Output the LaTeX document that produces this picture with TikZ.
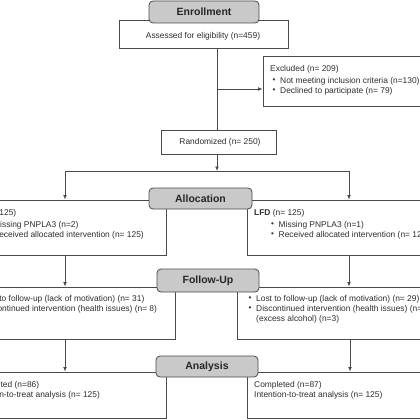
\documentclass[tikz,border=0pt]{standalone}
\usepackage{fontspec}
\setmainfont{Liberation Sans}
\usetikzlibrary{arrows.meta}
\definecolor{ln}{HTML}{4A4A4A}
\definecolor{tx}{HTML}{2E2E2E}
\definecolor{hdrfill}{HTML}{C9C9C9}
\newcommand\bul{\makebox[7.5pt][l]{\raisebox{0.3pt}{\fontsize{8}{8}\selectfont •}}}
\begin{document}
\begin{tikzpicture}[x=1pt,y=-1pt,
  box/.style={draw=ln,line width=0.8pt,fill=white,inner sep=0pt},
  hdr/.style={draw=ln,line width=0.8pt,fill=hdrfill,rounded corners=4pt,inner sep=0pt,
    text=black!85,font=\fontsize{10.5}{12}\selectfont\bfseries},
  txt/.style={anchor=west,inner sep=0pt,text=tx,font=\fontsize{8.4}{10}\selectfont,
    text height=6pt,text depth=1.8pt},
  ctxt/.style={txt,anchor=center},
  arr/.style={draw=ln,line width=0.8pt,-{Latex[length=4.5pt,width=3.8pt]}},
  ln/.style={draw=ln,line width=0.8pt}]
\useasboundingbox (0,0) rectangle (420,420);
\fill[white] (0,0) rectangle (420,420);
\clip (0,0) rectangle (420,420);

% body boxes
\node[box,minimum width=169pt,minimum height=28pt] (assess) at (203.5,34) {};
\node[box,minimum width=177pt,minimum height=50pt] (excl) at (351.5,81) {};
\node[box,minimum width=115pt,minimum height=24pt] (rand) at (218.5,142) {};
\node[box,minimum width=209pt,minimum height=55pt] (allocL) at (61.5,227.5) {};
\node[box,minimum width=213pt,minimum height=55pt] (allocR) at (353.5,227.5) {};
\node[box,minimum width=215pt,minimum height=52pt] (fuL) at (67.5,313) {};
\node[box,minimum width=223pt,minimum height=52pt] (fuR) at (348.5,313) {};
\node[box,minimum width=202pt,minimum height=46pt] (anL) at (65,395) {};
\node[box,minimum width=213pt,minimum height=46pt] (anR) at (353.5,395) {};

% headers
\node[hdr,minimum width=110pt,minimum height=22pt] (enr) at (204,12) {Enrollment};
\node[hdr,minimum width=103pt,minimum height=21pt] (alloc) at (200.5,198.5) {Allocation};
\node[hdr,minimum width=102pt,minimum height=23pt] (fu) at (208,280.5) {Follow-Up};
\node[hdr,minimum width=102pt,minimum height=21pt] (an) at (207,366.5) {Analysis};

% texts
\node[ctxt] (tAssess) at (203,36) {Assessed for eligibility (n=459)};
\node[txt] (tEx0) at (270,69) {Excluded (n= 209)};
\node[txt] (tEx1) at (272.5,81) {\bul Not meeting inclusion criteria (n=130)};
\node[txt] (tEx2) at (272.5,91) {\bul Declined to participate (n= 79)};
\node[ctxt] (tRand) at (220,142) {Randomized (n= 250)};

\node[txt,anchor=east] (tAL0) at (16.5,213) {(n= 125)};
\node[txt] (tAL1) at (-14.5,225) {\bul Missing PNPLA3 (n=2)};
\node[txt] (tAL2) at (-14.5,235) {\bul Received allocated intervention (n= 125)};
\node[txt] (tAR0) at (254,213) {\textbf{LFD} (n= 125)};
\node[txt] (tAR1) at (271,225) {\bul Missing PNPLA3 (n=1)};
\node[txt] (tAR2) at (271,235) {\bul Received allocated intervention (n= 125)};

\node[txt] (tFL1) at (-26.5,299) {\bul Lost to follow-up (lack of motivation) (n= 31)};
\node[txt] (tFL2) at (-26.5,309) {\bul Discontinued intervention (health issues) (n= 8)};
\node[txt] (tFR1) at (248.5,299) {\bul Lost to follow-up (lack of motivation) (n= 29)};
\node[txt] (tFR2) at (248.5,309) {\bul Discontinued intervention (health issues) (n= 5)};
\node[txt] (tFR3) at (256,319) {(excess alcohol) (n=3)};

\node[txt] (tNL1) at (-28.5,385) {Completed (n=86)};
\node[txt] (tNL2) at (-28.5,395) {Intention-to-treat analysis (n= 125)};
\node[txt] (tNR1) at (254,385) {Completed (n=87)};
\node[txt] (tNR2) at (254,395) {Intention-to-treat analysis (n= 125)};

% connectors
\coordinate (jEx) at (217,89);
\coordinate (jSplit) at (217,171);
\coordinate (jL) at (65,171);
\coordinate (jR) at (349,171);
\draw[ln] (assess.south -| jEx) -- (rand.north -| jEx);
\draw[arr] (jEx) -- (excl.west |- jEx);
\draw[arr] (rand.south -| jSplit) -- (jSplit);
\draw[ln] (jL) -- (jR);
\draw[arr] (jL) -- (allocL.north -| jL);
\draw[arr] (jR) -- (allocR.north -| jR);
\draw[arr] (allocL.south -| jL) -- (fuL.north -| jL);
\draw[arr] (allocR.south -| jR) -- (fuR.north -| jR);
\draw[arr] (fuL.south -| jL) -- (anL.north -| jL);
\draw[arr] ([xshift=1pt]fuR.south -| jR) -- ([xshift=1pt]anR.north -| jR);
\end{tikzpicture}
\end{document}
